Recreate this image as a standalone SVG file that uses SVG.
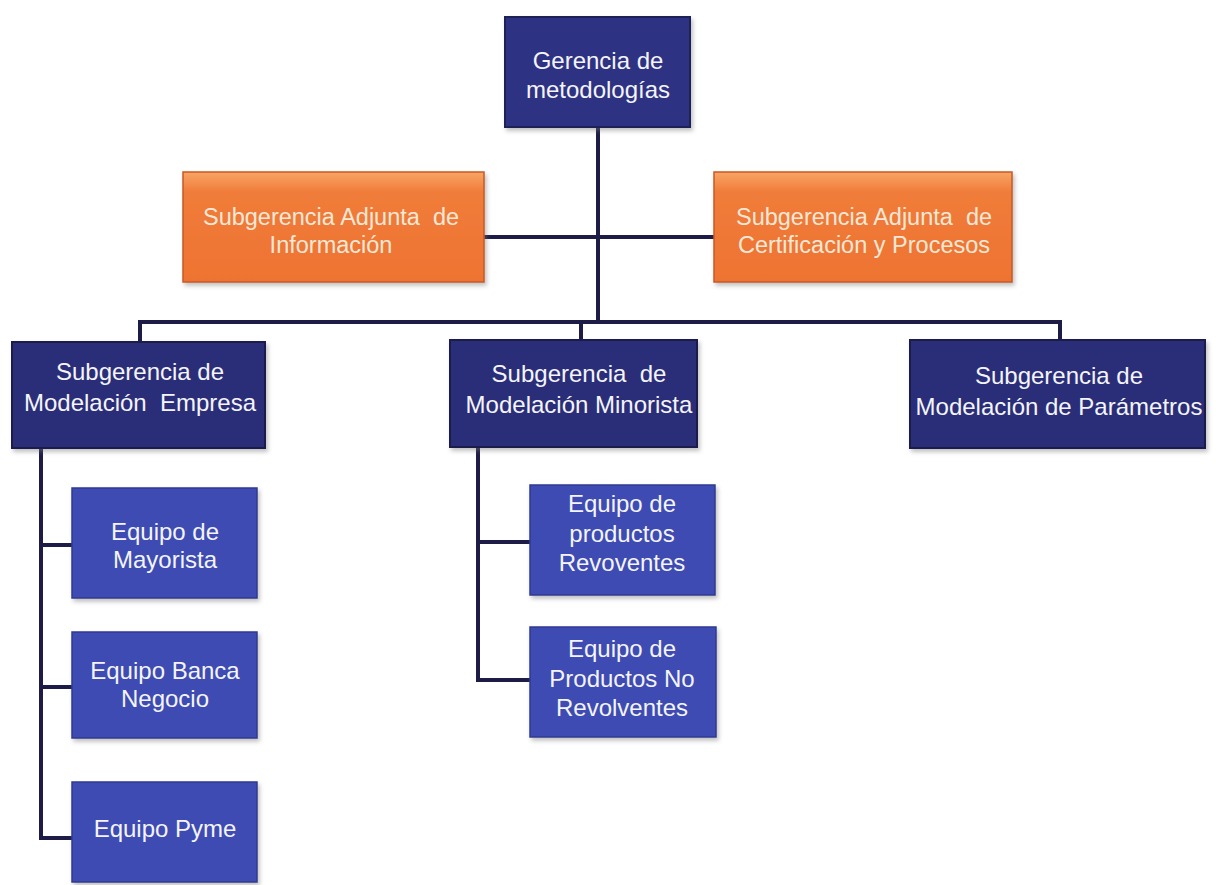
<svg xmlns="http://www.w3.org/2000/svg" width="1216" height="885" viewBox="0 0 1216 885">
<defs>
<filter id="sh" x="-10%" y="-10%" width="125%" height="130%">
<feDropShadow dx="2" dy="3" stdDeviation="2" flood-color="#777" flood-opacity="0.45"/>
</filter>
<linearGradient id="og" x1="0" y1="0" x2="0" y2="1">
<stop offset="0" stop-color="#f8a566"/>
<stop offset="0.18" stop-color="#f07c3a"/>
<stop offset="1" stop-color="#ee7332"/>
</linearGradient>
</defs>
<style>
.top{fill:#2f3182;stroke:#1f2056;stroke-width:2;filter:url(#sh)}
.sub{fill:#2c2d78;stroke:#1c1c4c;stroke-width:2;filter:url(#sh)}
.org{fill:url(#og);stroke:#c85a22;stroke-width:1.5;filter:url(#sh)}
.eq{fill:#3e4cb2;stroke:#2e3a92;stroke-width:1.5;filter:url(#sh)}
text{font-family:"Liberation Sans",Arial,sans-serif;text-anchor:middle;fill:#f4f4fa}
.t24{font-size:24px}
.t23{font-size:23.5px;fill:#f6e8d6}
.conn line{stroke:#1c1c46;stroke-width:4;stroke-linecap:square}
</style>
<rect width="1216" height="885" fill="#ffffff"/>
<g id="connectors" class="conn">
<line x1="598" y1="127" x2="598" y2="322"/>
<line x1="484" y1="237" x2="714" y2="237"/>
<line x1="140" y1="322" x2="1060" y2="322"/>
<line x1="140" y1="322" x2="140" y2="342"/>
<line x1="581" y1="322" x2="581" y2="340"/>
<line x1="1060" y1="322" x2="1060" y2="340"/>
<line x1="41" y1="448" x2="41" y2="838"/>
<line x1="41" y1="545" x2="72" y2="545"/>
<line x1="41" y1="687" x2="72" y2="687"/>
<line x1="41" y1="838" x2="72" y2="838"/>
<line x1="478" y1="447" x2="478" y2="680"/>
<line x1="478" y1="542" x2="530" y2="542"/>
<line x1="478" y1="680" x2="530" y2="680"/>
</g>
<g id="gerencia">
<rect class="top" x="505" y="17" width="185" height="110"/>
<text class="t24" x="598" y="69">Gerencia de</text>
<text class="t24" x="598" y="98">metodologías</text>
</g>
<g id="sub-informacion">
<rect class="org" x="183" y="172" width="301" height="110"/>
<text class="t23" x="331" y="225">Subgerencia Adjunta&#160; de</text>
<text class="t23" x="331" y="253">Información</text>
</g>
<g id="sub-certificacion">
<rect class="org" x="714" y="172" width="298" height="110"/>
<text class="t23" x="864" y="225">Subgerencia Adjunta&#160; de</text>
<text class="t23" x="864" y="253">Certificación y Procesos</text>
</g>
<g id="sub-empresa">
<rect class="sub" x="12" y="342" width="253" height="106"/>
<text class="t24" x="140" y="380">Subgerencia de</text>
<text class="t24" x="140" y="411">Modelación&#160; Empresa</text>
</g>
<g id="sub-minorista">
<rect class="sub" x="450" y="340" width="247" height="107"/>
<text class="t24" x="579" y="382">Subgerencia&#160; de</text>
<text class="t24" x="579" y="413">Modelación Minorista</text>
</g>
<g id="sub-parametros">
<rect class="sub" x="910" y="340" width="295" height="108"/>
<text class="t24" x="1059" y="384">Subgerencia de</text>
<text class="t24" x="1059" y="415">Modelación de Parámetros</text>
</g>
<g id="eq-mayorista">
<rect class="eq" x="72" y="488" width="185" height="110"/>
<text class="t24" x="165" y="540">Equipo de</text>
<text class="t24" x="165" y="568">Mayorista</text>
</g>
<g id="eq-banca">
<rect class="eq" x="72" y="632" width="185" height="106"/>
<text class="t24" x="165" y="679">Equipo Banca</text>
<text class="t24" x="165" y="707">Negocio</text>
</g>
<g id="eq-pyme">
<rect class="eq" x="72" y="782" width="185" height="100"/>
<text class="t24" x="165" y="837">Equipo Pyme</text>
</g>
<g id="eq-revolventes">
<rect class="eq" x="530" y="485" width="185" height="110"/>
<text class="t24" x="622" y="512">Equipo de</text>
<text class="t24" x="622" y="542">productos</text>
<text class="t24" x="622" y="571">Revoventes</text>
</g>
<g id="eq-norevolventes">
<rect class="eq" x="530" y="627" width="186" height="110"/>
<text class="t24" x="622" y="657">Equipo de</text>
<text class="t24" x="622" y="687">Productos No</text>
<text class="t24" x="622" y="716">Revolventes</text>
</g>
</svg>
